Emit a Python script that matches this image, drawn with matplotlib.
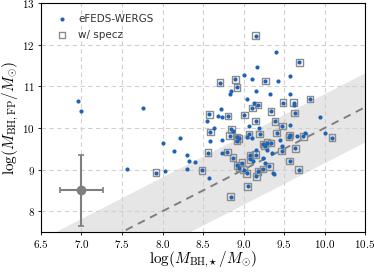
import matplotlib
matplotlib.use("Agg")
import matplotlib.pyplot as plt
import numpy as np

plt.rcParams['mathtext.fontset'] = 'cm'
plt.rcParams['font.family'] = ['DejaVu Sans']

# data: (log M_BH,star, log M_BH,FP, has specz)
m_star = [6.96, 6.99, 7.76, 7.56, 7.92, 8.01, 8.03, 8.14, 8.21, 8.30, 8.33, 8.40, 8.30, 8.49, 8.57,
          8.56, 8.55, 8.58, 8.59, 8.64, 8.59, 8.71, 8.72, 8.69, 8.74, 8.73, 8.73, 8.80, 8.81, 8.83,
          8.84, 8.83, 8.85, 8.87, 8.87, 8.90, 8.92, 8.92, 8.92, 8.94, 8.84, 8.92, 8.95, 8.98, 9.00,
          9.01, 9.00, 9.04, 9.04, 9.04, 9.05, 9.07, 9.07, 9.08, 9.08, 9.10, 9.11, 9.11, 9.13, 9.15,
          9.15, 9.16, 9.17, 9.18, 9.19, 9.20, 9.16, 9.15, 9.12, 9.16, 9.18, 9.24, 9.24, 9.26, 9.29,
          9.27, 9.29, 9.26, 9.24, 9.33, 9.34, 9.34, 9.35, 9.32, 9.36, 9.38, 9.39, 9.41, 9.40, 9.43,
          9.45, 9.47, 9.48, 9.48, 9.49, 9.57, 9.58, 9.57, 9.56, 9.57, 9.57, 9.62, 9.62, 9.63, 9.64,
          9.66, 9.69, 9.68, 9.74, 9.76, 9.82, 9.94, 10.00, 10.09]
m_fp = [10.65, 10.41, 10.49, 9.02, 8.93, 9.65, 8.97, 9.45, 9.75, 9.35, 9.21, 9.18, 9.01, 8.98, 8.80,
        9.41, 10.16, 10.33, 9.90, 10.01, 9.70, 11.09, 10.45, 10.29, 10.27, 9.71, 9.40, 9.43, 10.29, 10.82,
        10.88, 9.82, 9.97, 9.93, 9.29, 11.17, 10.98, 9.79, 9.69, 9.75, 8.35, 9.10, 9.05, 9.17, 9.00,
        10.31, 11.28, 10.70, 9.79, 8.91, 8.60, 9.85, 10.04, 9.35, 9.25, 9.76, 10.48, 11.17, 10.61, 10.17,
        12.22, 10.90, 11.46, 10.55, 9.99, 9.86, 9.48, 9.36, 9.20, 8.84, 8.96, 9.28, 9.62, 9.57, 9.65,
        11.13, 9.48, 9.16, 9.02, 10.81, 10.40, 9.64, 9.41, 9.08, 8.93, 8.90, 10.16, 9.88, 11.82, 11.14,
        9.72, 9.45, 10.05, 9.57, 10.61, 11.25, 10.81, 10.08, 9.78, 9.83, 9.21, 10.55, 10.61, 10.36, 9.51,
        9.80, 11.58, 9.00, 9.80, 9.89, 10.70, 10.27, 9.89, 9.77]
specz = [0, 0, 0, 0, 1, 0, 0, 0, 0, 0, 0, 0, 0, 1, 0,
         1, 0, 1, 1, 0, 0, 1, 0, 0, 0, 0, 0, 1, 1, 0,
         0, 1, 1, 0, 1, 1, 1, 1, 1, 1, 1, 1, 1, 1, 1,
         1, 0, 0, 0, 1, 1, 1, 0, 1, 1, 0, 1, 0, 0, 1,
         1, 0, 0, 1, 0, 1, 0, 1, 0, 1, 1, 0, 1, 1, 1,
         1, 0, 0, 1, 0, 1, 1, 0, 1, 0, 0, 1, 1, 0, 0,
         0, 1, 1, 0, 1, 0, 0, 0, 1, 1, 1, 0, 1, 1, 1,
         0, 1, 1, 1, 0, 1, 0, 0, 1]

# typical error bar
err_x, err_y = 7.0, 8.5
err_dx, err_dy = 0.27, 0.85

# 1:1 relation and scatter band
band = 0.83
x_ticks = [6.5, 7.0, 7.5, 8.0, 8.5, 9.0, 9.5, 10.0, 10.5]
y_ticks = [8, 9, 10, 11, 12, 13]

m_star = np.array(m_star)
m_fp = np.array(m_fp)
sz = np.array(specz, dtype=bool)

fig = plt.figure(figsize=(3.74, 2.73), dpi=100)
ax = fig.add_axes([0.1096, 0.150, 0.8664, 0.838])

xx = np.array([6.5, 10.5])
ax.fill_between(xx, xx - band, xx + band, color='#e6e6e6', lw=0, zorder=0)
ax.plot(xx, xx, ls=(0, (4, 3)), color='#7f7f7f', lw=1.4, zorder=1)

ax.scatter(m_star, m_fp, s=9, color='#1f63b5', lw=0, zorder=3, label='eFEDS-WERGS')
ax.scatter(m_star[sz], m_fp[sz], s=22, marker='s', facecolor='none',
           edgecolor='#8c8c8c', lw=1.0, zorder=2, label='w/ specz')

ax.errorbar([err_x], [err_y], xerr=[err_dx], yerr=[err_dy], fmt='o', color='#7f7f7f',
            ms=6, capsize=2.5, elinewidth=1.5, capthick=1.2, zorder=4)

ax.set_xlim(6.5, 10.5)
ax.set_ylim(7.5, 13)
ax.set_xticks(x_ticks)
ax.set_yticks(y_ticks)
ax.set_xticklabels([f'${t:.1f}$' for t in x_ticks], fontsize=8)
ax.set_yticklabels([f'${t}$' for t in y_ticks], fontsize=8)
ax.grid(True, ls=(0, (4, 3)), color='#d0d0d0', lw=0.8, zorder=0)
ax.set_axisbelow(True)
ax.tick_params(direction='out', length=2.5, width=0.6, pad=2)
for s in ax.spines.values():
    s.set_linewidth(0.8)

ax.set_xlabel(r'$\log(M_{\mathrm{BH,}\!\!\star}/M_{\odot})$', fontsize=11, labelpad=0)
ax.set_ylabel(r'$\log(M_{\mathrm{BH,FP}}/M_{\odot})$', fontsize=11, labelpad=1)

leg = ax.legend(loc='upper left', frameon=False, fontsize=7.5, handletextpad=0.6,
                borderaxespad=0.6, labelspacing=0.6)
for t in leg.get_texts():
    t.set_color('#333333')

fig.savefig('out.png', dpi=100)
